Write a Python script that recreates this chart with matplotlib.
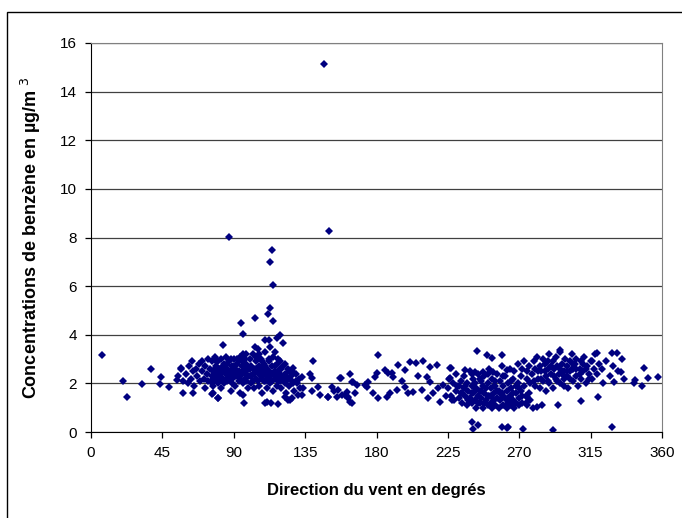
import matplotlib
matplotlib.use('Agg')
import matplotlib.pyplot as plt
from matplotlib.patches import Rectangle

plt.rcParams['font.family'] = ['Liberation Sans', 'DejaVu Sans']

# isolated points, north / north-east
dir_n = [7, 20, 23, 32, 38, 44, 43.5, 49, 54, 58, 64, 63.5, 57, 76, 80, 83, 77, 80]
conc_n = [3.17, 2.11, 1.45, 1.98, 2.6, 2.28, 1.96, 1.87, 2.14, 1.62, 1.62, 2.9, 2.62, 1.56, 1.39, 3.57, 1.59, 1.39]

# dense east cluster, 55-100 degrees
dir_e1 = [55, 57, 58, 60, 61, 62, 63, 64, 65, 66, 67, 68, 69, 70, 70, 71, 72, 72, 73, 74,
          74, 75, 76, 76, 77, 77, 78, 78, 79, 79, 80, 80, 81, 81, 82, 82, 83, 83, 84, 84,
          85, 85, 86, 86, 87, 87, 88, 88, 89, 89, 90, 90, 91, 91, 92, 92, 93, 93, 94, 94,
          95, 95, 96, 96, 97, 97, 98, 98, 99, 99, 100, 100]
conc_e1 = [2.3, 2.6, 2.1, 2.4, 2.0, 2.7, 2.2, 2.5, 1.9, 2.6, 2.3, 2.8, 2.1, 2.5, 2.9, 2.2, 2.7, 1.8, 2.4, 3.0,
           2.1, 2.6, 2.3, 2.9, 1.9, 2.5, 3.1, 2.2, 2.7, 2.4, 2.0, 2.9, 2.6, 2.3, 3.0, 1.8, 2.5, 2.2, 2.8, 2.0,
           2.4, 3.1, 2.6, 2.1, 2.9, 2.3, 1.7, 2.5, 2.7, 2.2, 3.0, 2.4, 1.9, 2.6, 2.8, 2.3, 2.1, 2.5, 3.1, 1.6,
           2.7, 2.4, 2.0, 2.9, 2.6, 2.2, 2.8, 2.4, 1.8, 2.6, 3.0, 2.3]

# east / south-east cluster, 100-132 degrees
dir_e2 = [101, 101, 102, 102, 103, 103, 104, 104, 105, 105, 106, 106, 107, 107, 108, 108, 109, 109, 110, 110,
          111, 111, 112, 112, 113, 113, 114, 114, 115, 115, 116, 116, 117, 117, 118, 118, 119, 119, 120, 120,
          121, 122, 122, 123, 124, 124, 125, 126, 127, 128, 129, 130, 131, 132]
conc_e2 = [2.0, 2.7, 2.4, 3.2, 1.8, 2.6, 2.2, 2.9, 3.4, 2.5, 1.9, 2.7, 2.3, 3.0, 1.6, 2.5, 2.8, 2.1, 3.3, 2.4,
           1.8, 2.6, 2.9, 2.2, 3.5, 2.0, 2.7, 2.4, 3.1, 1.7, 2.5, 2.2, 2.8, 1.9, 3.0, 2.4, 2.1, 2.6, 1.8, 2.3,
           2.7, 2.0, 2.4, 1.6, 2.2, 2.6, 1.9, 2.3, 2.1, 1.7, 2.4, 2.0, 2.2, 1.8]

# more points in the thick part of the east cluster, 76-129 degrees
dir_e3 = [76, 78, 79, 81, 82, 84, 85, 86, 87, 88, 89, 90, 91, 92, 93, 94, 95, 96, 97, 98,
          99, 100, 101, 102, 103, 104, 105, 106, 107, 108, 109, 110, 111, 112, 113, 114, 115, 116, 117, 118,
          119, 120, 121, 122, 123, 125, 127, 129, 112, 108, 104, 116, 119, 110, 106, 98, 92, 83, 80, 77]
conc_e3 = [2.0, 2.6, 2.9, 2.1, 2.4, 2.6, 2.2, 2.8, 2.5, 3.0, 2.0, 2.7, 2.3, 2.5, 2.9, 2.3, 2.1, 2.5, 3.0, 2.1,
           2.3, 2.6, 2.3, 2.1, 2.4, 2.6, 2.1, 2.4, 2.6, 2.2, 2.4, 2.1, 2.3, 2.5, 2.3, 2.1, 2.4, 2.7, 2.3, 2.1,
           2.4, 2.6, 2.2, 2.8, 2.3, 2.5, 2.5, 2.1, 3.0, 2.9, 3.1, 3.3, 2.9, 2.7, 3.2, 3.2, 3.0, 2.7, 2.5, 2.2]

# peaks and scattered points, 85-195 degrees
dir_s = [87, 114.3, 112.9, 115, 112.9, 111.8, 115, 94.4, 103.4, 95.6, 119.2, 117.5, 121.3, 109.7, 112.2,
         103.4, 96, 127.6, 127.1, 96, 96.5, 109.7, 113.3, 118.1, 125.5, 130.7, 146.9, 150,
         140.2, 138, 139.5, 157.6, 163.3, 165, 167.5, 172.7, 143.3, 144.4, 139.1, 132.8, 124.4, 122.3,
         110.8, 151.8, 153, 155.7, 158, 161.2, 163.3, 162.1, 149.2, 133.9, 132.8, 126.5, 149.6, 154.9,
         157, 160.1, 164.4, 162.2, 164.4, 166.5, 173.8, 174.8, 177.6, 181.1, 179, 180.1, 185.4, 187.5,
         188.5, 186.4, 192.7, 193.8, 190.6, 181.1]
conc_s = [8.01, 7.49, 7.0, 6.05, 5.09, 4.84, 4.58, 4.47, 4.70, 4.02, 3.99, 3.86, 3.65, 3.79, 3.79,
          3.51, 3.21, 2.62, 2.0, 1.52, 1.21, 1.21, 1.21, 1.15, 1.32, 1.52, 15.14, 8.27,
          2.92, 2.39, 2.21, 2.21, 2.39, 2.07, 1.93, 1.93, 1.87, 1.52, 1.70, 1.52, 1.32, 1.45,
          1.22, 1.84, 1.70, 1.73, 1.52, 1.66, 1.25, 1.45, 1.45, 1.80, 2.28, 1.39, 1.45, 1.45,
          2.21, 1.52, 2.07, 1.39, 1.18, 1.59, 1.86, 2.07, 1.59, 1.39, 2.28, 2.41, 2.55, 2.41,
          1.59, 1.45, 1.73, 2.76, 2.28, 3.17]

# south-west, 189-237 degrees
dir_sw = [198, 201.1, 204.9, 209.1, 217.9, 189.6, 198, 200.1, 203.2, 208.5, 211.6, 213.7, 212.7, 215.8,
          220.1, 222.2, 226.4, 226.4, 227.4, 235.8, 213.7, 227, 196, 206, 219, 224]
conc_sw = [2.55, 2.87, 2.83, 2.9, 2.76, 2.41, 1.86, 1.59, 1.66, 1.73, 2.28, 2.07, 1.39, 1.59,
           1.25, 1.93, 2.62, 2.21, 1.32, 2.55, 2.69, 2.62, 2.1, 2.3, 1.8, 1.5]

# dense west cluster, 225-277 degrees
dir_w1 = [225, 226, 227, 228, 229, 230, 230, 231, 232, 233, 233, 234, 235, 235, 236, 237, 237, 238, 239, 239,
          240, 240, 241, 241, 242, 242, 243, 243, 244, 244, 245, 245, 246, 246, 247, 247, 248, 248, 249, 249,
          250, 250, 251, 251, 252, 252, 253, 253, 254, 254, 255, 255, 256, 256, 257, 257, 258, 258, 259, 259,
          260, 260, 261, 261, 262, 262, 263, 263, 264, 264, 265, 265, 266, 266, 267, 267, 268, 268, 269, 269,
          270, 270, 271, 271, 272, 272, 273, 273, 274, 275, 275, 276, 277, 277]
conc_w1 = [1.8, 2.2, 1.5, 2.0, 1.3, 1.7, 2.4, 1.9, 1.4, 2.1, 1.6, 1.2, 1.8, 2.3, 1.5, 2.0, 1.1, 1.7, 2.5, 1.4,
           1.9, 1.2, 2.2, 1.6, 1.3, 2.0, 1.8, 1.0, 2.4, 1.5, 1.7, 1.2, 2.1, 1.4, 1.9, 1.0, 1.6, 2.3, 1.3, 1.8,
           1.1, 2.0, 1.5, 2.6, 1.2, 1.8, 1.0, 2.2, 1.6, 1.3, 1.9, 1.1, 2.4, 1.4, 1.7, 1.0, 2.1, 1.3, 1.6, 2.7,
           1.1, 1.9, 1.4, 2.3, 1.0, 1.7, 2.0, 1.2, 2.6, 1.5, 1.1, 1.8, 2.2, 1.3, 1.0, 2.5, 1.6, 1.2, 2.0, 2.8,
           1.4, 1.1, 2.3, 1.7, 2.6, 1.2, 1.9, 2.9, 1.5, 2.2, 1.1, 2.7, 1.3, 2.0]

# west / north-west cluster, 278-320 degrees
dir_w2 = [278, 279, 280, 280, 281, 282, 283, 283, 284, 285, 285, 286, 287, 287, 288, 289, 289, 290, 291, 291,
          292, 293, 293, 294, 295, 296, 296, 297, 298, 298, 299, 300, 300, 301, 302, 302, 303, 304, 304, 305,
          306, 306, 307, 308, 309, 309, 310, 311, 312, 313, 314, 315, 316, 317, 318, 319, 320]
conc_w2 = [2.4, 2.9, 1.9, 2.6, 3.1, 2.2, 2.7, 1.8, 2.5, 3.0, 2.1, 2.8, 2.3, 1.7, 2.6, 3.2, 2.0, 2.4, 2.9, 1.8,
           2.6, 2.2, 3.1, 2.7, 2.4, 3.3, 2.0, 2.8, 2.5, 1.9, 3.0, 2.3, 2.7, 1.8, 2.9, 2.5, 3.2, 2.1, 2.6, 2.8,
           2.3, 3.0, 1.9, 2.6, 2.2, 2.9, 2.5, 3.1, 2.0, 2.7, 2.4, 2.9, 2.2, 2.6, 3.2, 2.4, 2.8]

# more points in the thick part of the west clusters
dir_w3 = [232, 234, 236, 238, 240, 242, 244, 246, 248, 250, 252, 254, 256, 258, 260, 262, 264, 266, 268, 270,
          272, 274, 276, 245, 255, 265, 275, 260, 250, 240,
          282, 284, 286, 288, 290, 292, 294, 296, 298, 300, 302, 304, 306, 308, 310, 312, 314, 288, 297, 303,
          279, 316]
conc_w3 = [1.9, 1.6, 1.9, 1.3, 1.6, 1.7, 1.2, 1.7, 1.2, 1.5, 1.5, 1.9, 1.7, 1.6, 1.5, 1.3, 1.2, 1.6, 1.9, 1.8,
           1.5, 1.2, 1.6, 2.2, 2.1, 2.1, 2.5, 2.3, 2.4, 2.4,
           2.5, 2.2, 2.5, 2.9, 2.7, 2.3, 2.1, 2.6, 2.2, 2.5, 2.2, 2.8, 2.6, 2.4, 2.8, 2.6, 2.2, 2.1, 2.4, 2.6,
           2.1, 2.9]

# north-west, sparse points and low values
dir_nw = [243.6, 249.4, 252.6, 259.3, 240.4, 244.2, 241, 258.9, 262.1, 242.1, 247.4, 253.7, 262.1,
          295.7, 318.8, 328.7, 331.4, 335, 334.2, 348.9, 351, 357.3, 343, 342.6, 347.2, 330,
          322, 325, 327, 329, 332, 336, 323, 319.4, 309, 294.2, 284.1, 281, 278.8, 274.7,
          272.6, 291.5, 328.7, 263.1]
conc_nw = [3.35, 3.17, 3.03, 3.17, 0.43, 0.29, 0.11, 0.22, 0.15, 2.48, 2.48, 2.48, 2.55,
           3.37, 3.24, 3.24, 3.24, 2.99, 2.48, 2.62, 2.21, 2.25, 2.14, 2.0, 1.89, 2.07,
           2.6, 2.9, 2.3, 2.7, 2.5, 2.2, 2.0, 1.45, 1.29, 1.10, 1.11, 1.04, 0.97, 1.43,
           0.11, 0.08, 0.22, 0.22]

directions = dir_n + dir_e1 + dir_e2 + dir_e3 + dir_s + dir_sw + dir_w1 + dir_w2 + dir_w3 + dir_nw
concentrations = conc_n + conc_e1 + conc_e2 + conc_e3 + conc_s + conc_sw + conc_w1 + conc_w2 + conc_w3 + conc_nw

x_ticks = [0, 45, 90, 135, 180, 225, 270, 315, 360]
y_ticks = [0, 2, 4, 6, 8, 10, 12, 14, 16]

fig = plt.figure(figsize=(6.82, 5.18), dpi=100)
ax = fig.add_axes([91 / 682, 86 / 518, 571 / 682, 389 / 518])

ax.plot(directions, concentrations, linestyle='none', marker='D',
        markersize=3.8, color='#000080', markeredgewidth=0)

ax.set_xlim(0, 360)
ax.set_ylim(0, 16)
ax.set_xticks(x_ticks)
ax.set_yticks(y_ticks)
ax.yaxis.grid(True, color='#404040', linewidth=0.9)
ax.set_axisbelow(True)

for side in ['top', 'right']:
    ax.spines[side].set_color('#808080')
for side in ['left', 'bottom']:
    ax.spines[side].set_color('black')
ax.tick_params(direction='out', length=4, width=0.9, labelsize=11, pad=6)

ax.set_xlabel('Direction du vent en degrés', fontsize=12, fontweight='bold', labelpad=17)
ax.set_ylabel('Concentrations de benzène en µg/m $^{3}$', fontsize=13, fontweight='bold', labelpad=12)

# outer chart border (cut by the image edges on the right and bottom)
fig.patches.append(Rectangle((7 / 682, -0.1), 1.0, (518 - 12) / 518 + 0.1,
                             transform=fig.transFigure, fill=False,
                             edgecolor='black', linewidth=1.0))

plt.savefig('out.png', dpi=100)
